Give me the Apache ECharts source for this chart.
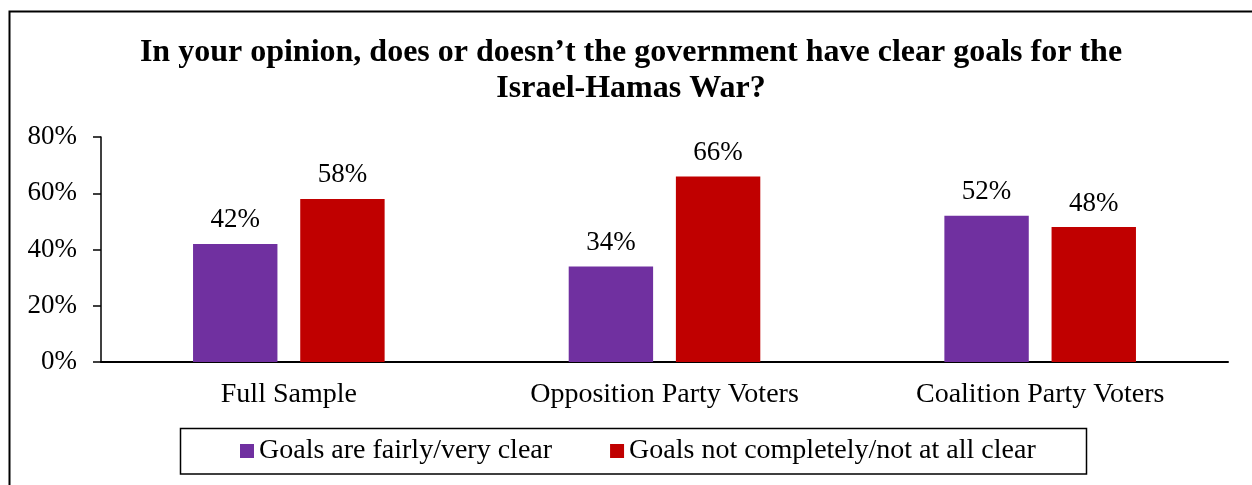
<!DOCTYPE html>
<html>
<head>
<meta charset="utf-8">
<title>Clear goals for the Israel-Hamas War</title>
<script src="https://cdn.jsdelivr.net/npm/echarts@6/dist/echarts.min.js"></script>
<style>
  html, body { margin: 0; padding: 0; background: #ffffff; }
  #chart { width: 1252px; height: 485px; }
</style>
</head>
<body>
<div id="chart"></div>
<script>
// Survey groups along the x axis
const categories = ['Full Sample', 'Opposition Party Voters', 'Coalition Party Voters'];
// Share of respondents per answer, in percent
const clearGoals = [42, 34, 52];
const unclearGoals = [58, 66, 48];
// Legend / series names
const seriesNames = ['Goals are fairly/very clear', 'Goals not completely/not at all clear'];
// Y axis ticks (percent)
const yTicks = [0, 20, 40, 60, 80];

const FONT = "'Liberation Serif', 'Times New Roman', serif";
const chart = echarts.init(document.getElementById('chart'), null, { renderer: 'canvas' });

const pctLabel = {
  show: true,
  position: 'top',
  distance: 10,
  color: '#000',
  fontFamily: FONT,
  fontSize: 27,
  formatter: p => p.value + '%'
};

chart.setOption({
  animation: false,
  backgroundColor: '#ffffff',
  title: {
    text: 'In your opinion, does or doesn\u2019t the government have clear goals for the\nIsrael-Hamas War?',
    left: 631,
    textAlign: 'center',
    top: 35,
    padding: 0,
    textStyle: {
      fontFamily: FONT,
      fontWeight: 'bold',
      fontSize: 32,
      lineHeight: 36,
      color: '#000'
    }
  },
  legend: {
    data: seriesNames,
    left: 240,
    top: 437,
    padding: 0,
    icon: 'rect',
    itemWidth: 14,
    itemHeight: 14,
    itemGap: 58,
    textStyle: { fontFamily: FONT, fontSize: 28, color: '#000', padding: [0, 0, 0, 0] }
  },
  grid: { left: 101, right: 24, top: 137, bottom: 123, containLabel: false },
  xAxis: {
    type: 'category',
    data: categories,
    axisLine: { lineStyle: { color: '#000', width: 2 } },
    axisTick: { show: false },
    axisLabel: { color: '#000', fontFamily: FONT, fontSize: 28, margin: 19 }
  },
  yAxis: {
    type: 'value',
    min: yTicks[0],
    max: yTicks[yTicks.length - 1],
    interval: yTicks[1] - yTicks[0],
    axisLine: { show: true, lineStyle: { color: '#000', width: 1.5 } },
    axisTick: { show: true, length: 8, lineStyle: { color: '#000', width: 1.5 } },
    splitLine: { show: false },
    axisLabel: { color: '#000', fontFamily: FONT, fontSize: 27, margin: 24, formatter: v => v + '%' }
  },
  series: [
    {
      name: seriesNames[0],
      type: 'bar',
      data: clearGoals,
      itemStyle: { color: '#7030A0' },
      barGap: '27%',
      barCategoryGap: '49%',
      label: pctLabel
    },
    {
      name: seriesNames[1],
      type: 'bar',
      data: unclearGoals,
      itemStyle: { color: '#C00000' },
      barGap: '27%',
      barCategoryGap: '49%',
      label: pctLabel
    }
  ],
  graphic: [
    {
      type: 'rect',
      silent: true,
      shape: { x: 9.5, y: 11.5, width: 1400, height: 700 },
      style: { fill: 'none', stroke: '#000', lineWidth: 2 }
    },
    {
      type: 'rect',
      silent: true,
      shape: { x: 180.5, y: 428.5, width: 906, height: 45.5 },
      style: { fill: 'none', stroke: '#000', lineWidth: 1.5 }
    }
  ]
});
</script>
</body>
</html>
